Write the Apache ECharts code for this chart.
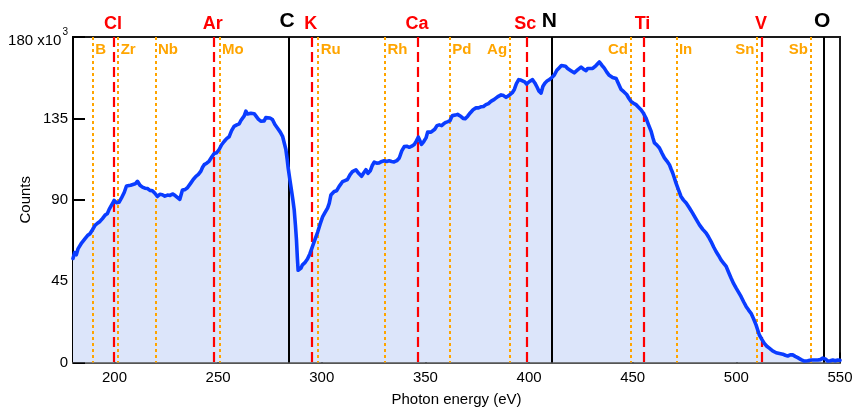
<!DOCTYPE html>
<html>
<head>
<meta charset="utf-8">
<script src="https://cdn.jsdelivr.net/npm/echarts@6/dist/echarts.min.js"></script>
<style>
  html, body { margin: 0; padding: 0; background: #fff; }
  #chart { width: 853px; height: 409px; }
</style>
</head>
<body>
<div id="chart"></div>
<script>
// Photon energy (eV) and detector counts (x10^3)
const energy = [
  180.0, 180.8, 181.6, 182.4, 183.3, 184.2, 185.1, 186.0, 187.0, 188.2,
  189.4, 190.6, 191.8, 193.0, 194.2, 195.4, 196.6, 197.5, 198.2, 199.0,
  199.8, 201.0, 202.2, 203.4, 204.7, 205.8, 206.7, 207.8, 208.7, 210.0,
  211.1, 212.3, 213.5, 214.7, 215.9, 217.1, 218.3, 219.5, 220.7, 221.9,
  223.1, 224.3, 225.6, 226.8, 228.0, 229.0, 229.9, 231.5, 232.8, 234.0,
  235.2, 236.8, 238.0, 239.3, 240.5, 241.7, 242.5, 243.3, 244.5, 245.7,
  247.0, 248.1, 249.3, 250.5, 251.7, 252.9, 254.1, 255.3, 256.5, 257.7,
  259.0, 260.2, 261.0, 261.8, 262.6, 263.4, 264.2, 265.0, 265.8, 266.6,
  267.4, 268.2, 269.4, 270.6, 271.4, 272.2, 273.0, 273.8, 275.0, 276.2,
  277.4, 278.6, 280.0, 281.1, 282.0, 282.7, 283.3, 283.8, 284.5, 285.1,
  286.0, 286.7, 287.3, 287.8, 288.2, 288.6, 289.3, 290.0, 290.7, 292.0,
  293.1, 294.3, 295.5, 296.7, 298.0, 299.2, 300.4, 301.6, 302.8, 303.6,
  304.4, 305.2, 306.0, 307.2, 308.4, 309.2, 310.0, 311.2, 312.4, 313.6,
  314.8, 315.6, 316.5, 317.8, 319.2, 320.2, 321.3, 322.3, 323.4, 324.3,
  325.3, 326.5, 327.7, 329.0, 330.1, 331.3, 332.5, 333.7, 334.9, 336.2,
  337.4, 338.6, 339.8, 341.0, 342.2, 343.4, 344.6, 345.6, 346.6, 347.3,
  348.1, 349.2, 350.3, 351.1, 351.9, 352.7, 353.5, 354.5, 355.6, 356.7,
  357.8, 358.8, 359.9, 360.9, 361.9, 362.5, 363.1, 364.3, 365.5, 366.4,
  367.2, 368.2, 369.2, 370.4, 371.6, 373.0, 374.4, 375.6, 376.8, 378.0,
  379.2, 380.4, 381.6, 382.8, 384.0, 385.2, 386.5, 387.7, 388.9, 389.9,
  390.9, 391.9, 392.9, 393.9, 395.0, 396.0, 396.9, 397.9, 398.8, 400.2,
  401.7, 402.8, 403.9, 404.8, 405.8, 406.7, 407.7, 408.8, 409.8, 411.0,
  412.2, 413.4, 414.6, 415.6, 416.5, 417.6, 418.6, 420.2, 421.8, 423.4,
  425.1, 426.3, 427.5, 428.3, 429.1, 430.7, 432.3, 433.9, 435.1, 436.3,
  437.5, 438.7, 440.3, 442.0, 443.2, 444.4, 445.8, 447.1, 448.2, 449.2,
  450.4, 451.6, 452.8, 454.0, 455.2, 456.4, 457.6, 458.9, 459.7, 460.5,
  461.7, 462.9, 464.1, 465.3, 466.5, 467.7, 468.5, 469.3, 470.1, 470.9,
  472.1, 473.3, 474.5, 475.8, 477.3, 478.9, 480.5, 482.2, 483.8, 485.4,
  486.6, 487.8, 489.0, 490.2, 491.4, 492.6, 493.8, 495.1, 496.3, 497.5,
  498.7, 499.9, 501.1, 502.3, 503.5, 504.7, 505.9, 507.1, 508.3, 509.5,
  510.3, 511.1, 512.3, 513.5, 514.7, 515.9, 517.5, 519.2, 520.8, 522.4,
  523.6, 524.8, 526.0, 527.2, 528.4, 529.6, 531.2, 532.8, 534.4, 536.1,
  537.7, 539.3, 540.5, 541.7, 542.9, 544.1, 545.3, 546.5, 547.7, 548.9,
  550.0
];
const counts = [
  57.5, 60.8, 59.6, 62.8, 62.0, 66.2, 65.4, 68.8, 70.2, 71.2,
  73.4, 75.8, 77.0, 78.0, 79.6, 81.4, 82.4, 84.8, 84.6, 87.8,
  89.6, 88.4, 88.6, 91.0, 94.0, 97.6, 98.4, 98.0, 98.6, 98.8,
  100.2, 98.0, 97.0, 96.4, 96.2, 95.2, 95.0, 93.6, 91.8, 93.0,
  92.8, 92.0, 92.6, 92.4, 93.2, 92.6, 92.8, 90.2, 95.4, 95.6,
  96.6, 99.2, 101.2, 102.9, 104.0, 105.8, 108.0, 109.4, 110.2, 111.4,
  113.8, 115.6, 116.0, 117.8, 120.4, 122.2, 123.8, 124.8, 128.2, 130.6,
  131.4, 132.0, 133.8, 134.2, 136.4, 139.0, 137.4, 137.0, 137.8, 136.8,
  137.6, 136.6, 134.6, 133.4, 132.4, 133.6, 135.4, 135.0, 135.2, 134.4,
  131.6, 129.7, 127.4, 125.1, 121.0, 117.7, 112.5, 107.5, 102.0, 97.4,
  90.5, 84.5, 76.0, 67.8, 58.5, 51.0, 50.2, 52.2, 54.0, 55.4,
  57.2, 60.2, 64.1, 68.0, 72.0, 76.5, 80.5, 83.0, 85.4, 88.0,
  92.6, 93.4, 94.6, 95.0, 97.4, 97.0, 100.0, 100.6, 101.2, 103.8,
  105.6, 106.4, 106.6, 104.6, 103.0, 104.8, 106.6, 104.6, 106.0, 108.8,
  110.8, 110.2, 110.4, 111.2, 111.6, 111.2, 111.6, 111.2, 110.9, 111.6,
  113.1, 117.0, 119.4, 119.6, 119.0, 119.6, 120.5, 122.4, 124.6, 122.8,
  120.6, 122.2, 124.2, 127.4, 128.2, 127.4, 126.8, 129.0, 131.0, 131.4,
  131.0, 132.0, 132.8, 133.2, 133.8, 135.4, 136.6, 136.8, 137.2, 136.6,
  136.0, 135.0, 134.8, 136.2, 138.0, 139.8, 140.8, 140.8, 141.4, 141.6,
  142.6, 143.2, 144.4, 145.2, 146.2, 147.2, 148.0, 147.6, 146.6, 147.4,
  148.2, 149.2, 151.0, 154.2, 156.4, 156.2, 155.8, 155.2, 154.0, 155.4,
  156.4, 154.6, 152.2, 150.0, 149.0, 152.8, 154.6, 155.8, 156.4, 157.6,
  159.0, 161.6, 163.0, 164.2, 164.8, 163.8, 162.6, 161.4, 160.2, 161.8,
  163.4, 162.2, 161.4, 162.6, 162.8, 162.6, 164.2, 166.2, 164.4, 162.8,
  160.6, 158.8, 157.6, 157.0, 154.0, 151.0, 149.6, 148.2, 146.0, 144.4,
  143.4, 142.6, 141.2, 139.8, 137.8, 135.2, 131.6, 127.8, 124.4, 121.4,
  120.2, 118.6, 115.8, 113.2, 111.4, 109.4, 107.0, 104.8, 102.0, 99.2,
  95.4, 91.8, 89.8, 88.2, 85.6, 82.6, 79.4, 76.1, 73.6, 71.6,
  69.4, 66.9, 64.0, 61.4, 59.2, 56.8, 55.0, 53.1, 49.8, 46.6,
  43.6, 41.1, 38.8, 36.4, 33.6, 31.0, 29.0, 27.2, 24.2, 20.8,
  18.0, 15.2, 12.8, 10.6, 9.0, 7.9, 6.4, 5.4, 5.0, 4.6,
  4.0, 3.6, 4.2, 4.2, 3.4, 2.7, 1.6, 0.8, 1.0, 1.4,
  1.4, 1.4, 1.6, 2.4, 2.0, 0.8, 1.0, 1.4, 1.0, 1.4,
  1.2
];

// K edges of light elements (solid black)
const mainEdgeNames = ['C', 'N', 'O'];
const mainEdgeEnergy = [284.2, 410.8, 542.4];

// L edges (red dashed)
const lEdgeNames = ['Cl', 'Ar', 'K', 'Ca', 'Sc', 'Ti', 'V'];
const lEdgeEnergy = [199.8, 247.9, 295.2, 346.4, 398.7, 455.2, 512.4];

// M edges (orange dotted)
const mEdgeNames = ['B', 'Zr', 'Nb', 'Mo', 'Ru', 'Rh', 'Pd', 'Ag', 'Cd', 'In', 'Sn', 'Sb'];
const mEdgeEnergy = [189.5, 201.8, 219.8, 250.7, 298.3, 330.5, 361.7, 390.6, 448.9, 471.1, 509.9, 535.7];

// Axis ticks
const xTicks = [200, 250, 300, 350, 400, 450, 500, 550];
const yTicks = [0, 45, 90, 135, 180];

// ---- styling ----
const FONT = '"Liberation Sans", Arial, Helvetica, sans-serif';
const CURVE = '#0a3cff';
const FILL = '#dce5fa';
const RED = '#ff0000';
const ORANGE = '#ffa500';
const Y_MIN = yTicks[0];
const Y_MAX = yTicks[yTicks.length - 1];
// label heights in axis units (above / inside the frame)
const MAIN_LABEL_Y = 188.8;
const L_LABEL_Y = 187.0;
const M_LABEL_Y = 173.0;
const leftSideLabels = new Set(['Ag', 'Cd', 'Sn', 'Sb']);

const spectrum = energy.map((e, i) => [e, counts[i]]);

function verticalLines(xs) {
  return xs.map(x => [{ coord: [x, Y_MAX] }, { coord: [x, Y_MIN] }]);
}

function edgeMarkLine(xs, color, width, type) {
  return {
    silent: true,
    symbol: ['none', 'none'],
    z: 3,
    label: { show: false },
    emphasis: { disabled: true },
    lineStyle: { color: color, width: width, type: type, opacity: 1 },
    data: verticalLines(xs)
  };
}

function labelSeries(names, xs, y, color, size, posFn, dist, offset) {
  const labelStyle = {
    show: true,
    formatter: '{b}',
    color: color,
    opacity: 1,
    textBorderWidth: 0,
    fontFamily: FONT,
    fontWeight: 'bold',
    fontSize: size,
    offset: offset || [0, 0]
  };
  return {
    type: 'scatter',
    silent: true,
    clip: false,
    z: 12,
    symbolSize: 1,
    itemStyle: { color: 'rgba(255,255,255,0)', opacity: 1 },
    data: names.map((n, i) => ({
      name: n,
      value: [xs[i], y],
      label: Object.assign({}, labelStyle, { position: posFn(n), distance: dist })
    })),
    label: labelStyle
  };
}

const chart = echarts.init(document.getElementById('chart'), null, { renderer: 'canvas' });

chart.setOption({
  animation: false,
  backgroundColor: '#ffffff',
  grid: {
    left: 73, right: 13, top: 37, bottom: 46.5,
    containLabel: false,
    outerBoundsMode: 'none',
    show: true,
    borderColor: '#1a1a1a',
    borderWidth: 2,
    backgroundColor: 'transparent'
  },
  xAxis: {
    type: 'value',
    min: 180,
    max: 550,
    name: 'Photon energy (eV)',
    nameLocation: 'middle',
    nameGap: 30,
    nameMoveOverlap: false,
    nameTextStyle: { color: '#000', fontFamily: FONT, fontSize: 15 },
    axisLine: { show: true, onZero: false, lineStyle: { color: '#555', width: 2 } },
    axisTick: {
      show: true, inside: true, length: 10,
      customValues: xTicks,
      lineStyle: { color: '#000', width: 2 }
    },
    axisLabel: {
      show: true, margin: 8,
      customValues: xTicks,
      color: '#000', fontFamily: FONT, fontSize: 15
    },
    splitLine: { show: false }
  },
  yAxis: {
    type: 'value',
    min: Y_MIN,
    max: Y_MAX,
    interval: 45,
    name: 'Counts',
    nameLocation: 'middle',
    nameGap: 40,
    nameMoveOverlap: false,
    nameTextStyle: { color: '#000', fontFamily: FONT, fontSize: 15 },
    axisLine: { show: true, lineStyle: { color: '#000', width: 2 } },
    axisTick: { show: true, inside: true, length: 12, lineStyle: { color: '#000', width: 2 } },
    axisLabel: {
      margin: 5,
      color: '#000', fontFamily: FONT, fontSize: 15,
      formatter: v => (v === Y_MAX ? '{m|' + v + ' x10}{s|3}' : String(v)),
      rich: {
        m: { color: '#000', fontFamily: FONT, fontSize: 15, padding: [8, 0, 0, 0] },
        s: { color: '#000', fontFamily: FONT, fontSize: 10, verticalAlign: 'top', padding: [2, 0, 0, 1] }
      }
    },
    splitLine: { show: false }
  },
  series: [
    {
      // filled area under the spectrum
      name: 'area',
      type: 'line',
      data: spectrum,
      z: 1,
      silent: true,
      showSymbol: false,
      symbol: 'none',
      lineStyle: { width: 0, opacity: 0 },
      areaStyle: { color: FILL, opacity: 1 },
      markLine: edgeMarkLine(mEdgeEnergy, ORANGE, 2, [3, 3])
    },
    {
      name: 'l-edges',
      type: 'line',
      data: [],
      z: 3,
      silent: true,
      markLine: edgeMarkLine(lEdgeEnergy, RED, 2.2, [10, 5])
    },
    {
      name: 'main-edges',
      type: 'line',
      data: [],
      z: 3,
      silent: true,
      markLine: edgeMarkLine(mainEdgeEnergy, '#000', 2, 'solid')
    },
    {
      // the measured spectrum
      name: 'counts',
      type: 'line',
      data: spectrum,
      z: 10,
      silent: true,
      showSymbol: false,
      symbol: 'none',
      lineStyle: { color: CURVE, width: 3.6, join: 'round', cap: 'round' }
    },
    labelSeries(mainEdgeNames, mainEdgeEnergy, MAIN_LABEL_Y, '#000', 21, () => 'inside', 0, [-2, 0]),
    labelSeries(lEdgeNames, lEdgeEnergy, L_LABEL_Y, RED, 18, () => 'inside', 0, [-1, 0]),
    labelSeries(mEdgeNames, mEdgeEnergy, M_LABEL_Y, ORANGE, 15,
      n => (leftSideLabels.has(n) ? 'left' : 'right'), 2)
  ]
});
</script>
</body>
</html>
